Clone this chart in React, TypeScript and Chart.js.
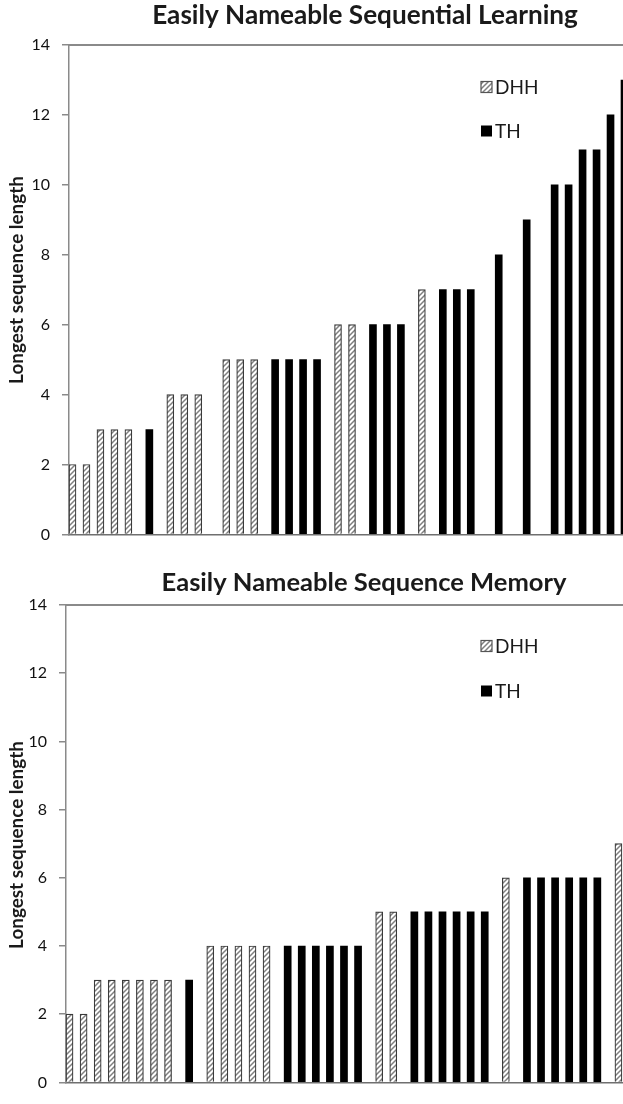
import React, { useEffect, useRef } from 'react';
import { Chart, registerables } from 'chart.js';

Chart.register(...registerables);

// ---- data ----
const participants = [
  'P1', 'P2', 'P3', 'P4', 'P5', 'P6', 'P7', 'P8', 'P9', 'P10',
  'P11', 'P12', 'P13', 'P14', 'P15', 'P16', 'P17', 'P18', 'P19', 'P20',
  'P21', 'P22', 'P23', 'P24', 'P25', 'P26', 'P27', 'P28', 'P29', 'P30',
  'P31', 'P32', 'P33', 'P34', 'P35', 'P36', 'P37', 'P38', 'P39', 'P40',
];

const learningDHH = [
  2, 2, 3, 3, 3, null, null, 4, 4, 4,
  null, 5, 5, 5, null, null, null, null, null, 6,
  6, null, null, null, null, 7, null, null, null, null,
  null, null, null, null, null, null, null, null, null, null,
];
const learningTH = [
  null, null, null, null, null, 3, null, null, null, null,
  null, null, null, null, 5, 5, 5, 5, null, null,
  null, 6, 6, 6, null, null, 7, 7, 7, null,
  8, null, 9, null, 10, 10, 11, 11, 12, 13,
];

const memoryDHH = [
  2, 2, 3, 3, 3, 3, 3, 3, null, null,
  4, 4, 4, 4, 4, null, null, null, null, null,
  null, null, 5, 5, null, null, null, null, null, null,
  null, 6, null, null, null, null, null, null, null, 7,
];
const memoryTH = [
  null, null, null, null, null, null, null, null, 3, null,
  null, null, null, null, null, 4, 4, 4, 4, 4,
  4, null, null, null, 5, 5, 5, 5, 5, 5,
  null, null, 6, 6, 6, 6, 6, 6, null, null,
];

const seriesNames = ['DHH', 'TH'];
const yTitle = 'Longest sequence length';
const titles = ['Easily Nameable Sequential Learning', 'Easily Nameable Sequence Memory'];
const yMin = 0;
const yMax = 14;
const yStep = 2;

const FONT = 'Lato, "Open Sans", sans-serif';

function makeHatch(): CanvasPattern | string {
  const c = document.createElement('canvas');
  c.width = 5;
  c.height = 5;
  const g = c.getContext('2d');
  if (!g) return '#ccc';
  g.fillStyle = '#ffffff';
  g.fillRect(0, 0, 5, 5);
  g.strokeStyle = '#808080';
  g.lineWidth = 1.5;
  g.beginPath();
  g.moveTo(-1, 6);
  g.lineTo(6, -1);
  g.moveTo(-1, 1);
  g.lineTo(1, -1);
  g.moveTo(4, 6);
  g.lineTo(6, 4);
  g.stroke();
  const p = g.createPattern(c, 'repeat');
  return p || '#ccc';
}

function fitSize(ctx: CanvasRenderingContext2D, text: string, weight: string, target: number) {
  ctx.save();
  ctx.font = `${weight} 20px ${FONT}`;
  const w = ctx.measureText(text).width;
  ctx.restore();
  return (20 * target) / w;
}

type PanelCfg = {
  title: string;
  titleX: number;
  titleY: number;
  titleW: number;
  yTitleX: number;
  yTitleY: number;
  yTitleW: number;
  legendX: number;
  legendY1: number;
  legendY2: number;
  dhh: (number | null)[];
  th: (number | null)[];
  canvasH: number;
  area: { left: number; top: number; right: number; bottom: number };
};

const CANVAS_W = 640;

function Panel({ cfg, top }: { cfg: PanelCfg; top: number }) {
  const ref = useRef<HTMLCanvasElement | null>(null);
  useEffect(() => {
    const canvas = ref.current;
    if (!canvas) return;
    const hatch = makeHatch();

    const decor = {
      id: 'decor',
      afterDraw(chart: any) {
        const ctx: CanvasRenderingContext2D = chart.ctx;
        const a = chart.chartArea;
        ctx.save();
        // top border of plot area
        ctx.strokeStyle = '#8a8a8a';
        ctx.lineWidth = 2;
        ctx.beginPath();
        ctx.moveTo(a.left - 0.75, a.top);
        ctx.lineTo(CANVAS_W, a.top);
        ctx.stroke();

        // title
        const ts = fitSize(ctx, cfg.title, 'bold', cfg.titleW);
        ctx.font = `bold ${ts}px ${FONT}`;
        ctx.fillStyle = '#1a1a1a';
        ctx.textAlign = 'center';
        ctx.textBaseline = 'middle';
        ctx.fillText(cfg.title, cfg.titleX, cfg.titleY);

        // y title
        const ys = fitSize(ctx, yTitle, 'bold', cfg.yTitleW);
        ctx.save();
        ctx.translate(cfg.yTitleX, cfg.yTitleY);
        ctx.rotate(-Math.PI / 2);
        ctx.font = `bold ${ys}px ${FONT}`;
        ctx.fillText(yTitle, 0, 0);
        ctx.restore();

        // legend
        const sw = 11;
        ctx.textAlign = 'left';
        ctx.font = `19px ${FONT}`;
        // DHH
        ctx.fillStyle = hatch as any;
        ctx.fillRect(cfg.legendX, cfg.legendY1 - sw / 2, sw, sw);
        ctx.strokeStyle = '#555';
        ctx.lineWidth = 1.2;
        ctx.strokeRect(cfg.legendX, cfg.legendY1 - sw / 2, sw, sw);
        ctx.fillStyle = '#1a1a1a';
        ctx.fillText(seriesNames[0], cfg.legendX + sw + 3, cfg.legendY1 + 1);
        // TH
        ctx.fillStyle = '#000';
        ctx.fillRect(cfg.legendX, cfg.legendY2 - sw / 2, sw, sw);
        ctx.fillStyle = '#1a1a1a';
        ctx.fillText(seriesNames[1], cfg.legendX + sw + 3, cfg.legendY2 + 1);
        ctx.restore();
      },
    };

    const A = cfg.area;
    const chart = new Chart(canvas, {
      type: 'bar',
      data: {
        labels: participants,
        datasets: [
          {
            label: seriesNames[0],
            data: cfg.dhh,
            backgroundColor: hatch as any,
            borderColor: '#3a3a3a',
            borderWidth: 1.2,
            categoryPercentage: 1,
            barPercentage: 1,
          },
          {
            label: seriesNames[1],
            data: cfg.th,
            backgroundColor: '#000000',
            borderColor: '#000000',
            borderWidth: 0,
            categoryPercentage: 1,
            barPercentage: 1,
          },
        ],
      },
      options: {
        responsive: false,
        animation: false,
        devicePixelRatio: 1,
        layout: {
          padding: {
            left: 0,
            top: A.top,
            right: CANVAS_W - A.right,
            bottom: cfg.canvasH - A.bottom,
          },
        },
        plugins: {
          legend: { display: false },
          title: { display: false },
          tooltip: { enabled: false },
        },
        scales: {
          x: {
            type: 'category',
            offset: true,
            grid: { display: false, drawTicks: false },
            ticks: { display: false },
            border: { display: true, color: '#6f6f6f', width: 1.5 },
            afterFit: (s: any) => {
              s.height = 0;
            },
          },
          y: {
            min: yMin,
            max: yMax,
            ticks: {
              stepSize: yStep,
              padding: 12,
              color: '#111',
              font: { family: FONT, size: 16 },
            },
            grid: {
              drawOnChartArea: false,
              drawTicks: true,
              tickLength: 7,
              color: '#8a8a8a',
              lineWidth: 1.5,
            },
            border: { display: true, color: '#8a8a8a', width: 1.5 },
            afterFit: (s: any) => {
              s.width = A.left;
            },
          },
        },
      },
      plugins: [decor],
    });
    return () => chart.destroy();
  }, [cfg]);

  return (
    <canvas
      ref={ref}
      width={CANVAS_W}
      height={cfg.canvasH}
      style={{ position: 'absolute', left: 0, top, width: CANVAS_W, height: cfg.canvasH }}
    />
  );
}

const topCfg: PanelCfg = {
  title: titles[0],
  titleX: 365,
  titleY: 16,
  titleW: 426,
  yTitleX: 17,
  yTitleY: 280,
  yTitleW: 208,
  legendX: 481,
  legendY1: 87,
  legendY2: 131,
  dhh: learningDHH,
  th: learningTH,
  canvasH: 556,
  area: { left: 69, top: 45, right: 628, bottom: 535 },
};

const bottomCfg: PanelCfg = {
  title: titles[1],
  titleX: 364,
  titleY: 27,
  titleW: 405,
  yTitleX: 17,
  yTitleY: 289,
  yTitleW: 208,
  legendX: 481,
  legendY1: 90,
  legendY2: 135,
  dhh: memoryDHH,
  th: memoryTH,
  canvasH: 548,
  area: { left: 66, top: 49, right: 629, bottom: 538 },
};

export default function App() {
  return (
    <div
      style={{
        position: 'absolute',
        left: 0,
        top: 0,
        width: 623,
        height: 1104,
        overflow: 'hidden',
        background: '#fff',
      }}
    >
      <Panel cfg={topCfg} top={0} />
      <Panel cfg={bottomCfg} top={556} />
    </div>
  );
}
